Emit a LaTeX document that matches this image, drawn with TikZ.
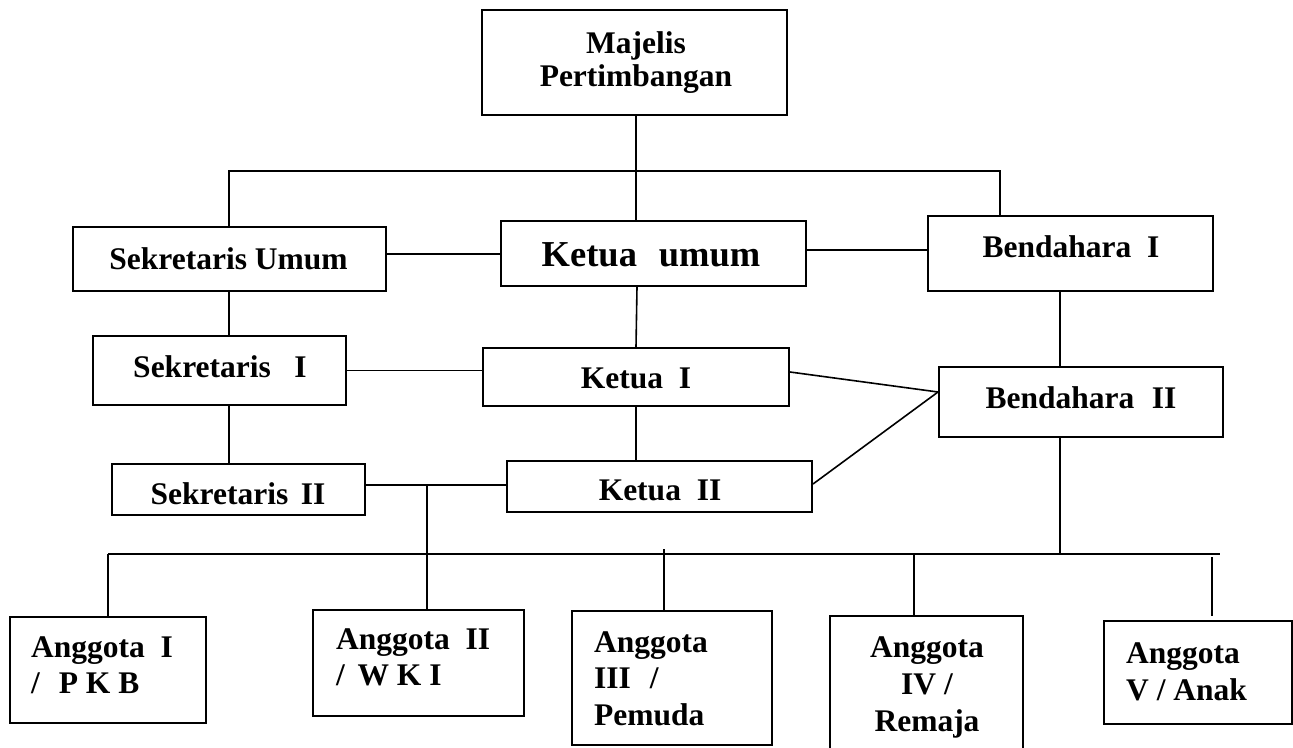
\documentclass[tikz,border=0pt]{standalone}
\usepackage{fontspec}
\setmainfont{Liberation Serif}
\newcommand\orgfont{\fontsize{31.5}{36.5}\selectfont\bfseries}
\newcommand\bigorgfont{\fontsize{36.5}{40}\selectfont\bfseries}
\begin{document}
\begin{tikzpicture}[x=1pt,y=-1pt,
  box/.style={draw, line width=2pt, inner sep=0pt},
  lbl/.style={font=\orgfont, inner sep=0pt},
  link/.style={line width=1.6pt}]
\useasboundingbox (0,0) rectangle (1293,747);
\clip (0,0) rectangle (1293,747);
% boxes
\node[box, minimum width=305pt, minimum height=105pt] (maj) at (634,62) {};
\node[box, minimum width=313pt, minimum height=64pt] (su) at (229.5,259) {};
\node[box, minimum width=305pt, minimum height=65pt] (ku) at (653.5,253.5) {};
\node[box, minimum width=285pt, minimum height=75pt] (b1) at (1070.5,253.5) {};
\node[box, minimum width=253pt, minimum height=69pt] (s1) at (219.5,370.5) {};
\node[box, minimum width=306pt, minimum height=58pt] (k1) at (636,377) {};
\node[box, minimum width=284pt, minimum height=70pt] (b2) at (1081,402) {};
\node[box, minimum width=253pt, minimum height=51pt] (s2) at (238.5,489.5) {};
\node[box, minimum width=305pt, minimum height=51pt] (k2) at (659.5,486.5) {};
\node[box, minimum width=196pt, minimum height=106pt] (a1) at (108,670) {};
\node[box, minimum width=211pt, minimum height=106pt] (a2) at (418.5,663) {};
\node[box, minimum width=200pt, minimum height=134pt] (a3) at (672,678) {};
\node[box, minimum width=193pt, minimum height=154pt] (a4) at (926.5,693) {};
\node[box, minimum width=188pt, minimum height=103pt] (a5) at (1198,672.5) {};
% labels
\node[lbl, anchor=base] (tmaj) at (636,53) {\begin{tabular}[t]{@{}c@{}}Majelis\\[-3.5pt]Pertimbangan\end{tabular}};
\node[lbl, anchor=base] (tsu) at (228.5,269) {Sekretaris Umum};
\node[lbl, anchor=base, font=\bigorgfont] (tku) at (651,266) {Ketua\hspace{0.6em}umum};
\node[lbl, anchor=base] (tb1) at (1071,257) {Bendahara\hspace{0.5em}I};
\node[lbl, anchor=base] (ts1) at (220,377) {Sekretaris\hspace{0.75em}I};
\node[lbl, anchor=base] (tk1) at (636,388) {Ketua\hspace{0.5em}I};
\node[lbl, anchor=base] (tb2) at (1081,408) {Bendahara\hspace{0.55em}II};
\node[lbl, anchor=base] (ts2) at (238,504) {Sekretaris\hspace{0.4em}II};
\node[lbl, anchor=base] (tk2) at (660,500) {Ketua\hspace{0.5em}II};
\node[lbl, anchor=base west] (ta1) at (31,657) {\begin{tabular}[t]{@{}l@{}}Anggota\hspace{0.5em}I\\/\hspace{0.6em}P K B\end{tabular}};
\node[lbl, anchor=base west] (ta2) at (336,649) {\begin{tabular}[t]{@{}l@{}}Anggota\hspace{0.5em}II\\/\hspace{0.4em}W K I\end{tabular}};
\node[lbl, anchor=base west] (ta3) at (594,652) {\begin{tabular}[t]{@{}l@{}}Anggota\\III\hspace{0.6em}/\\Pemuda\end{tabular}};
\node[lbl, anchor=base] (ta4) at (927,657) {\begin{tabular}[t]{@{}c@{}}Anggota\\[0.5pt]IV /\\[0.5pt]Remaja\end{tabular}};
\node[lbl, anchor=base west] (ta5) at (1126,663) {\begin{tabular}[t]{@{}l@{}}Anggota\\[0.5pt]V / Anak\end{tabular}};
% junction coordinates
\coordinate (tl) at (229,171);
\coordinate (tr) at (1000,171);
\coordinate (j) at (427,485);
\coordinate (busL) at (108,554);
\coordinate (busR) at (1220,554);
\coordinate (t3) at (664,549);
\coordinate (t4) at (914,554);
\coordinate (t5) at (1212,557);
\coordinate (e5) at (1212,616);
% connectors
\draw[link] ([xshift=2pt]maj.south) -- ([xshift=2pt]maj.south |- ku.north);
\draw[link] (su.north -| tl) -- (tl) -- (tr) -- (tr |- b1.north);
\draw[link] ([yshift=5pt]su.east) -- ([yshift=5pt]su.east -| ku.west);
\draw[link] ([yshift=3.5pt]ku.east) -- ([yshift=3.5pt]ku.east -| b1.west);
\draw[link] ([xshift=-0.5pt]su.south) -- ([xshift=-0.5pt]su.south |- s1.north);
\draw[link] ([xshift=1pt]ku.south -| k1.north) -- (k1.north);
\draw[link] ([xshift=-10.5pt]b1.south) -- ([xshift=-10.5pt]b1.south |- b2.north);
\draw[link] (s1.east) -- (s1.east -| k1.west);
\draw[link] ([yshift=5pt]k1.east) -- ([yshift=10pt]b2.west);
\draw[link] ([yshift=2.5pt]k2.east) -- ([yshift=10pt]b2.west);
\draw[link] ([xshift=9.5pt]s1.south) -- ([xshift=9.5pt]s1.south |- s2.north);
\draw[link] (k1.south) -- (k1.south |- k2.north);
\draw[link] ([yshift=4.5pt]s2.east) -- ([yshift=4.5pt]s2.east -| k2.west);
\draw[link] (j) -- (j |- a2.north);
\draw[link] ([xshift=-21pt]b2.south) -- ([xshift=-21pt]b2.south |- busL);
\draw[link] (busL) -- (busR);
\draw[link] (a1.north) -- (busL);
\draw[link] (t3) -- (t3 |- a3.north);
\draw[link] (t4) -- (t4 |- a4.north);
\draw[link] (t5) -- (e5);
\end{tikzpicture}
\end{document}
